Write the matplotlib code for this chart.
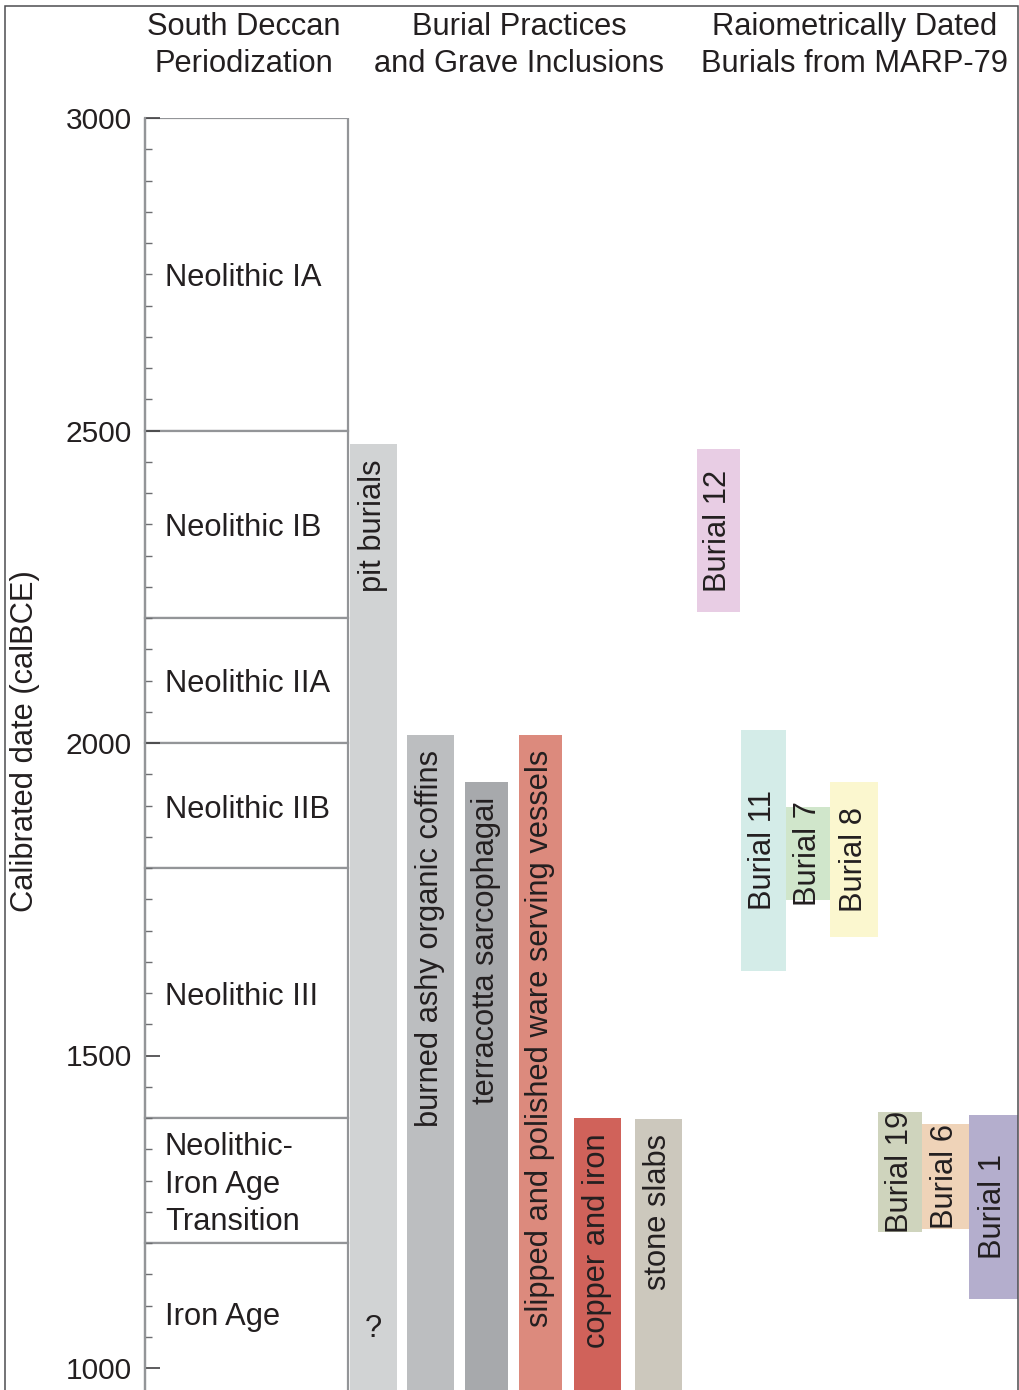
import matplotlib
matplotlib.use('Agg')
import matplotlib.pyplot as plt
from matplotlib.patches import Rectangle
import numpy as np

plt.rcParams['font.family'] = ['Liberation Sans', 'DejaVu Sans']

# Periodization (calBCE, start -> end)
periods = ['Neolithic IA', 'Neolithic IB', 'Neolithic IIA', 'Neolithic IIB',
           'Neolithic III', 'Neolithic-\nIron Age\nTransition', 'Iron Age']
period_start = [3000, 2500, 2200, 2000, 1800, 1400, 1200]
period_end = [2500, 2200, 2000, 1800, 1400, 1200, 900]

# Burial practices and grave inclusions
practices = ['pit burials', 'burned ashy organic coffins', 'terracotta sarcophagai',
             'slipped and polished ware serving vessels', 'copper and iron', 'stone slabs']
practice_start = [2478, 2013, 1938, 2013, 1400, 1399]
practice_end = [900, 900, 900, 900, 900, 900]

# Radiometrically dated burials
burials = ['Burial 12', 'Burial 11', 'Burial 7', 'Burial 8', 'Burial 19', 'Burial 6', 'Burial 1']
burial_start = [2470, 2021, 1898, 1938, 1410, 1390, 1405]
burial_end = [2210, 1635, 1749, 1690, 1217, 1223, 1111]

# layout (x in figure pixels)
practice_left = [350, 407, 465, 519, 574, 635]
practice_width = [47, 47, 43, 43, 47, 47]
practice_colors = ['#d1d3d4', '#bcbec0', '#a7a9ac', '#dc8a7d', '#d0625a', '#ccc8bd']
burial_left = [697, 741, 786, 830, 878, 922, 969]
burial_width = [43, 45, 44, 48, 44, 47, 49]
burial_colors = ['#e8cde4', '#d4ece8', '#d0e6cb', '#fbf7cf', '#cfd4bd', '#efd3b8', '#b4aecd']

txt = '#231f20'
fs = 22.2
px_per_year = 0.625
ybottom = 1000 - 22 / px_per_year

fig = plt.figure(figsize=(10.2, 13.9), dpi=100)
ax = fig.add_axes([0, 0, 1, 1272 / 1390])
ax.set_xlim(0, 1020)
ax.set_ylim(ybottom, 3000)

for s in ['top', 'right', 'bottom']:
    ax.spines[s].set_visible(False)
ax.spines['left'].set_position(('data', 145))
ax.spines['left'].set_color('#939598')
ax.spines['left'].set_linewidth(1.6)
ax.set_xticks([])
ax.set_yticks(np.arange(1000, 3001, 500))
ax.set_yticks(np.arange(1000, 3001, 50), minor=True)
ax.tick_params(axis='y', which='major', direction='in', length=10.8, width=1.2,
               color='#414042', pad=9.5, labelsize=21.5, labelcolor=txt)
ax.tick_params(axis='y', which='minor', direction='in', length=5, width=1.0,
               color='#6d6e71')

# periodization boxes
shift = 4 / px_per_year
for name, s, e in zip(periods, period_start, period_end):
    ax.bar(145, s - e, bottom=e, width=203, align='edge', facecolor='white',
           edgecolor='#939598', linewidth=1.6, zorder=1)
    ymid = (s + max(e, ybottom)) / 2 + (5 if e < ybottom else 0) - shift
    ax.text(165, ymid, name, fontsize=fs, color=txt, ha='left', va='center',
            linespacing=1.33, zorder=3)

# practice bars
gap = 15 / px_per_year
for name, s, e, x, w, c in zip(practices, practice_start, practice_end,
                               practice_left, practice_width, practice_colors):
    ax.bar(x, s - e, bottom=e, width=w, align='edge', color=c, linewidth=0, zorder=2)
    ax.text(x + w / 2, s - gap, name, rotation=90, fontsize=fs, color=txt,
            ha='center', va='top', zorder=3)
ax.text(practice_left[0] + practice_width[0] / 2, 1063, '?', fontsize=fs,
        color=txt, ha='center', va='center', zorder=3)

# dated burials
for name, s, e, x, w, c in zip(burials, burial_start, burial_end,
                               burial_left, burial_width, burial_colors):
    ax.bar(x, s - e, bottom=e, width=w, align='edge', color=c, linewidth=0, zorder=2)
    ax.text(x + w / 2, (s + e) / 2, name, rotation=90, fontsize=fs, color=txt,
            ha='center', va='center', zorder=3)

# headers and axis title
H = 1390
W = 1020
for xc, label in [(244, 'South Deccan\nPeriodization'),
                  (519, 'Burial Practices\nand Grave Inclusions'),
                  (855, 'Raiometrically Dated\nBurials from MARP-79')]:
    fig.text(xc / W, 1 - 45.5 / H, label, fontsize=fs, color=txt, ha='center',
             va='center', multialignment='center', linespacing=1.33)
fig.text(25 / W, 1 - 741 / H, 'Calibrated date (calBCE)', fontsize=fs, color=txt,
         rotation=90, ha='center', va='center')

# outer frame
fig.patches.append(Rectangle((5.5 / W, -0.01), 1013 / W, 1.01 - 5.5 / H,
                             transform=fig.transFigure, fill=False,
                             edgecolor='#4d4d4f', linewidth=1.1))

fig.savefig('out.png', dpi=100)
